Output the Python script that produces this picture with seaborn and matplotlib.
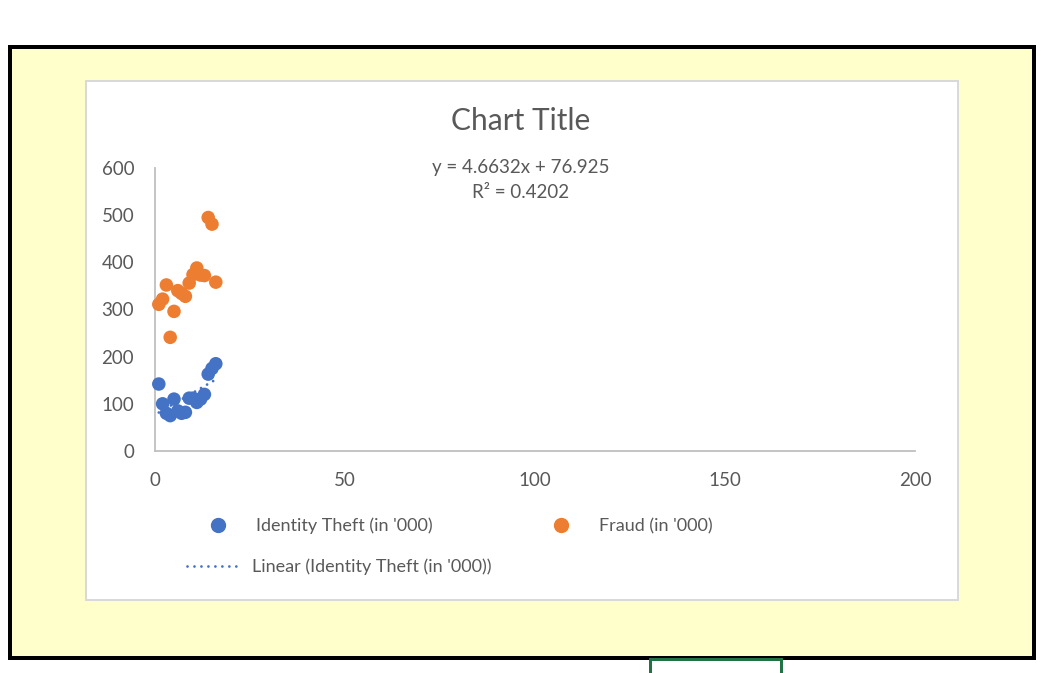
import numpy as np
import pandas as pd
import matplotlib
matplotlib.use("Agg")
import matplotlib.pyplot as plt
from matplotlib.patches import Rectangle
from matplotlib.lines import Line2D
import seaborn as sns

# ---- data ----
x_vals = [1, 2, 3, 4, 5, 6, 7, 8, 9, 10, 11, 12, 13, 14, 15, 16]
identity_theft = [142, 100, 80, 75, 110, 85, 80, 82, 112, 112, 103, 110, 120, 163, 175, 185]
fraud = [311, 322, 352, 241, 296, 340, 334, 328, 356, 374, 388, 373, 372, 495, 481, 358]
trend_slope = 4.6632
trend_intercept = 76.925
trend_r2 = 0.4202
x_ticks = [0, 50, 100, 150, 200]
y_ticks = [0, 100, 200, 300, 400, 500, 600]
series_names = ["Identity Theft (in '000)", "Fraud (in '000)", "Linear (Identity Theft (in '000))"]
title = "Chart Title"

df = pd.DataFrame({"x": x_vals, "identity": identity_theft, "fraud": fraud})

sns.set_theme(style="white")
plt.rcParams["font.family"] = ["Lato", "DejaVu Sans"]

W, H = 1041, 673
fig = plt.figure(figsize=(W / 100, H / 100), dpi=100)
fig.patch.set_facecolor("white")


def px(x, y):
    return (x / W, 1 - y / H)


def pw(w):
    return w / W


def ph(h):
    return h / H


# outer yellow box with black frame
x0, y0 = px(10, 658)
fig.patches.append(Rectangle((x0, y0), pw(1024), ph(611), transform=fig.transFigure,
                             facecolor="#FFFFCC", edgecolor="black", linewidth=4 * 0.72, zorder=0))
# inner white chart area
x0, y0 = px(85.5, 599.5)
fig.patches.append(Rectangle((x0, y0), pw(873), ph(519), transform=fig.transFigure,
                             facecolor="white", edgecolor="#D9D9D9", linewidth=2 * 0.72, zorder=1))
# green cell selection marker at the bottom
x0, y0 = px(649.5, 680)
fig.patches.append(Rectangle((x0, y0), pw(131), ph(21.5), transform=fig.transFigure,
                             facecolor="none", edgecolor="#217346", linewidth=3 * 0.72, zorder=2))

# plot axes
ax_left, ax_right = 155, 915
ax_bottom, ax_top = 451, 168
ax = fig.add_axes([ax_left / W, 1 - ax_bottom / H, (ax_right - ax_left) / W, (ax_bottom - ax_top) / H])
ax.set_facecolor("none")
ax.set_zorder(3)

blue = "#4472C4"
orange = "#ED7D31"
sns.scatterplot(data=df, x="x", y="identity", ax=ax, color=blue, s=95, edgecolor="none",
                clip_on=False, zorder=3, legend=False)
sns.scatterplot(data=df, x="x", y="fraud", ax=ax, color=orange, s=95, edgecolor="none",
                clip_on=False, zorder=3, legend=False)

dots = (0, (0.01, 2.5))
xs = np.array([min(x_vals), max(x_vals)], dtype=float)
trend = pd.DataFrame({"x": xs, "y": trend_slope * xs + trend_intercept})
sns.lineplot(data=trend, x="x", y="y", ax=ax, color=blue, linewidth=2,
             linestyle=dots, dash_capstyle="round", zorder=4)

ax.set_xlim(0, 200)
ax.set_ylim(0, 600)
ax.set_xticks(x_ticks)
ax.set_yticks(y_ticks)
ax.set_xlabel("")
ax.set_ylabel("")
tick_col = "#595959"
ax.tick_params(axis="both", length=0, labelsize=13.5, colors=tick_col)
ax.tick_params(axis="y", pad=15)
ax.tick_params(axis="x", pad=15)
for s in ["top", "right"]:
    ax.spines[s].set_visible(False)
for s in ["left", "bottom"]:
    ax.spines[s].set_color("#BFBFBF")
    ax.spines[s].set_linewidth(1.3)
ax.grid(False)

# title and equation
fig.text(*px(521, 121), title, ha="center", va="center", fontsize=21.5, color=tick_col)
fig.text(*px(521, 168), f"y = {trend_slope}x + {trend_intercept}", ha="center", va="center",
         fontsize=13.5, color=tick_col)
fig.text(*px(521, 193), f"R² = {trend_r2}", ha="center", va="center", fontsize=13.5, color=tick_col)

# legend entries, placed like the reference
fs = 13
em = fs * 100 / 72
hl = 54 / em


def add_leg(handle, label, xpix, ypix):
    lg = fig.legend([handle], [label], loc="center left", bbox_to_anchor=px(xpix, ypix),
                    bbox_transform=fig.transFigure, frameon=False, fontsize=fs,
                    handlelength=hl, handletextpad=11 / em, borderpad=0, borderaxespad=0,
                    labelcolor=tick_col)
    lg.set_zorder(5)


add_leg(Line2D([], [], marker="o", color=blue, linestyle="none", markersize=10), series_names[0], 191, 526)
add_leg(Line2D([], [], marker="o", color=orange, linestyle="none", markersize=10), series_names[1], 534, 526)
add_leg(Line2D([], [], color=blue, linewidth=2, linestyle=dots, dash_capstyle="round"),
        series_names[2], 187, 567)

fig.savefig("out.png", dpi=100)
